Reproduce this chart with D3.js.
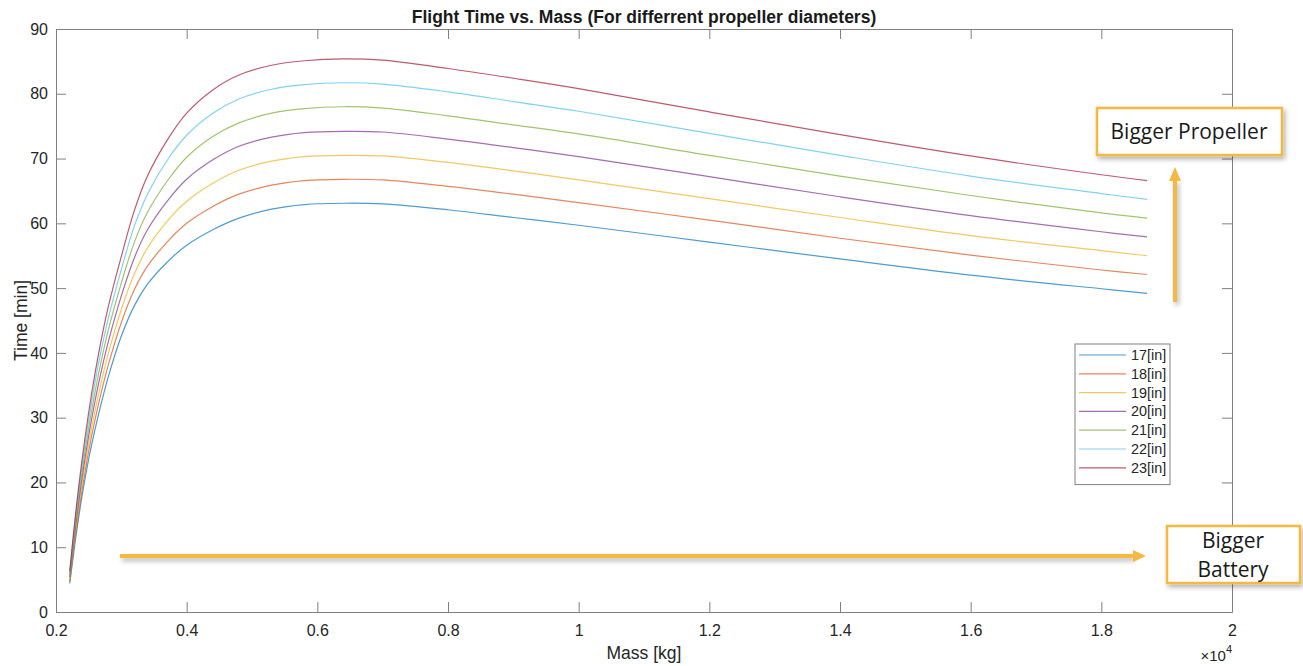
<!DOCTYPE html>
<html>
<head>
<meta charset="utf-8">
<script src="https://cdn.jsdelivr.net/npm/d3@7"></script>
<style>
  body { margin: 0; background: #fff; }
  svg { display: block; font-family: "Liberation Sans", Arial, sans-serif; }
  .tick text { font-size: 16px; fill: #262626; }
  .tick line, .domain { stroke: #808080; }
  .note { font-family: "Open Sans", "Noto Sans", sans-serif; font-size: 21px; fill: #1a1a1a; }
</style>
</head>
<body>
<svg id="chart" width="1303" height="666"></svg>
<script>
// Mass in units of 10^4 kg
var massGrid = [0.221, 0.23, 0.24, 0.25, 0.26, 0.27, 0.28, 0.30, 0.32, 0.34, 0.37, 0.40, 0.44,
                0.48, 0.53, 0.58, 0.64, 0.70, 0.80, 0.90, 1.00, 1.20, 1.40, 1.60, 1.80, 1.87];

// Flight time [min] per propeller diameter
var time17 = [4.4, 11.3, 18.0, 23.6, 28.3, 32.5, 36.3, 42.6, 47.3, 50.6, 54.0, 56.6, 59.0,
              60.8, 62.2, 62.9, 63.1, 63.0, 62.1, 60.9, 59.7, 57.1, 54.5, 52.0, 49.9, 49.2];
var time18 = [4.7, 12.0, 18.9, 24.8, 29.8, 34.2, 38.1, 44.7, 49.8, 53.4, 57.1, 60.0, 62.6,
              64.5, 65.9, 66.6, 66.8, 66.7, 65.7, 64.5, 63.2, 60.5, 57.7, 55.1, 52.8, 52.1];
var time19 = [5.0, 12.6, 19.9, 26.0, 31.2, 35.8, 39.9, 46.7, 52.2, 56.2, 60.3, 63.4, 66.2,
              68.2, 69.6, 70.3, 70.5, 70.4, 69.4, 68.1, 66.7, 63.8, 60.9, 58.1, 55.8, 55.0];
var time20 = [5.4, 13.3, 20.8, 27.2, 32.7, 37.5, 41.7, 48.8, 54.7, 59.0, 63.4, 66.8, 69.8,
              71.9, 73.3, 74.0, 74.2, 74.1, 73.0, 71.7, 70.3, 67.2, 64.1, 61.2, 58.7, 57.9];
var time21 = [5.7, 13.9, 21.7, 28.4, 34.1, 39.1, 43.5, 50.8, 57.1, 61.7, 66.5, 70.2, 73.4,
              75.5, 77.0, 77.7, 78.0, 77.8, 76.6, 75.2, 73.8, 70.5, 67.3, 64.3, 61.6, 60.8];
var time22 = [6.0, 14.6, 22.7, 29.6, 35.6, 40.8, 45.3, 52.9, 59.6, 64.5, 69.7, 73.6, 77.0,
              79.2, 80.7, 81.4, 81.7, 81.5, 80.3, 78.8, 77.3, 73.9, 70.5, 67.3, 64.6, 63.7];
var time23 = [6.3, 15.2, 23.6, 30.8, 37.0, 42.4, 47.1, 54.9, 62.0, 67.3, 72.8, 77.0, 80.6,
              82.9, 84.4, 85.1, 85.4, 85.2, 83.9, 82.4, 80.8, 77.2, 73.7, 70.4, 67.5, 66.6];

var diameters = ["17[in]", "18[in]", "19[in]", "20[in]", "21[in]", "22[in]", "23[in]"];
var seriesTimes = [time17, time18, time19, time20, time21, time22, time23];
var lineColors = ["#0072BD", "#D95319", "#EDB120", "#7E2F8E", "#77AC30", "#4DBEEE", "#A2142F"];

var xTicks = [0.2, 0.4, 0.6, 0.8, 1, 1.2, 1.4, 1.6, 1.8, 2];
var yTicks = [0, 10, 20, 30, 40, 50, 60, 70, 80, 90];

// Layout
var p_left = 56, p_right = 1232, p_top = 29, p_bottom = 612;
var tick_len = 10;
var accent = "#F5B942";

var svg = d3.select("#chart");

var x = d3.scaleLinear().domain([0.2, 2]).range([p_left, p_right]);
var y = d3.scaleLinear().domain([0, 90]).range([p_bottom, p_top]);

var defs = svg.append("defs");
var shadow = defs.append("filter").attr("id", "shadow")
    .attr("filterUnits", "userSpaceOnUse")
    .attr("x", 0).attr("y", 0).attr("width", 1303).attr("height", 666);
shadow.append("feDropShadow")
    .attr("dx", 2).attr("dy", 3).attr("stdDeviation", 2.5)
    .attr("flood-color", "#000").attr("flood-opacity", 0.3);

// Axes (MATLAB style box with inward ticks)
svg.append("g")
    .attr("transform", "translate(0," + p_bottom + ")")
    .call(d3.axisBottom(x).tickValues(xTicks).tickFormat(d => String(d))
        .tickSizeInner(-tick_len).tickSizeOuter(0).tickPadding(13));
svg.append("g")
    .attr("transform", "translate(0," + p_top + ")")
    .call(d3.axisTop(x).tickValues(xTicks).tickFormat("")
        .tickSizeInner(-tick_len).tickSizeOuter(0));
svg.append("g")
    .attr("transform", "translate(" + p_left + ",0)")
    .call(d3.axisLeft(y).tickValues(yTicks)
        .tickSizeInner(-tick_len).tickSizeOuter(0).tickPadding(8));
svg.append("g")
    .attr("transform", "translate(" + p_right + ",0)")
    .call(d3.axisRight(y).tickValues(yTicks).tickFormat("")
        .tickSizeInner(-tick_len).tickSizeOuter(0));

// Curves
var line = d3.line()
    .x((d, i) => x(massGrid[i]))
    .y(d => y(d))
    .curve(d3.curveCatmullRom.alpha(0.5));

svg.append("g").selectAll("path")
    .data(seriesTimes)
    .enter()
    .append("path")
    .attr("d", d => line(d))
    .attr("fill", "none")
    .attr("stroke", (d, i) => lineColors[i])
    .attr("stroke-width", 1.2)
    .attr("stroke-opacity", 0.7);

// Titles
svg.append("text")
    .attr("x", (p_left + p_right) / 2).attr("y", 23)
    .attr("text-anchor", "middle")
    .attr("font-size", 17.5).attr("font-weight", "bold").attr("fill", "#1a1a1a")
    .text("Flight Time vs. Mass (For differrent propeller diameters)");
svg.append("text")
    .attr("x", (p_left + p_right) / 2).attr("y", 659)
    .attr("text-anchor", "middle")
    .attr("font-size", 17.5).attr("fill", "#262626")
    .text("Mass [kg]");
svg.append("text")
    .attr("transform", "translate(27," + ((p_top + p_bottom) / 2) + ") rotate(-90)")
    .attr("text-anchor", "middle")
    .attr("font-size", 17.5).attr("fill", "#262626")
    .text("Time [min]");
var expo = svg.append("text")
    .attr("x", p_right).attr("y", 661)
    .attr("text-anchor", "end")
    .attr("font-size", 15).attr("fill", "#262626");
expo.append("tspan").text("\u00d710");
expo.append("tspan").attr("dy", -8).attr("font-size", 11).text("4");

// Legend
var lg_x = 1075, lg_y = 344, lg_w = 95, lg_row = 18.8;
var legend = svg.append("g");
legend.append("rect")
    .attr("x", lg_x).attr("y", lg_y)
    .attr("width", lg_w).attr("height", lg_row * diameters.length + 9)
    .attr("fill", "#fff").attr("stroke", "#808080");
var rows = legend.selectAll(".row")
    .data(diameters)
    .enter()
    .append("g")
    .attr("class", "row")
    .attr("transform", (d, i) => "translate(0," + (lg_y + 11 + i * lg_row) + ")");
rows.append("line")
    .attr("x1", lg_x + 4).attr("x2", lg_x + 51)
    .attr("stroke", (d, i) => lineColors[i])
    .attr("stroke-width", 1.2).attr("stroke-opacity", 0.7);
rows.append("text")
    .attr("x", lg_x + 56).attr("dy", "0.35em")
    .attr("font-size", 14.4).attr("fill", "#262626")
    .text(d => d);

// Annotations
var notes = svg.append("g");
notes.append("line")
    .attr("x1", 120).attr("y1", 556).attr("x2", 1133).attr("y2", 556)
    .attr("stroke", accent).attr("stroke-width", 4).attr("filter", "url(#shadow)");
notes.append("path")
    .attr("d", "M1133,550 L1146,556 L1133,562 Z")
    .attr("fill", accent);
notes.append("line")
    .attr("x1", 1175).attr("y1", 302).attr("x2", 1175).attr("y2", 180)
    .attr("stroke", accent).attr("stroke-width", 4).attr("filter", "url(#shadow)");
notes.append("path")
    .attr("d", "M1169,181 L1175,167 L1181,181 Z")
    .attr("fill", accent);

notes.append("rect")
    .attr("x", 1097).attr("y", 108).attr("width", 185).attr("height", 47)
    .attr("fill", "#fff").attr("stroke", accent).attr("stroke-width", 2.5)
    .attr("filter", "url(#shadow)");
notes.append("text")
    .attr("class", "note")
    .attr("x", 1189).attr("y", 139).attr("text-anchor", "middle")
    .text("Bigger Propeller");

notes.append("rect")
    .attr("x", 1167).attr("y", 526).attr("width", 133).attr("height", 57)
    .attr("fill", "#fff").attr("stroke", accent).attr("stroke-width", 2.5)
    .attr("filter", "url(#shadow)");
notes.append("text")
    .attr("class", "note")
    .attr("x", 1233).attr("y", 548).attr("text-anchor", "middle")
    .text("Bigger");
notes.append("text")
    .attr("class", "note")
    .attr("x", 1233).attr("y", 577).attr("text-anchor", "middle")
    .text("Battery");
</script>
</body>
</html>
